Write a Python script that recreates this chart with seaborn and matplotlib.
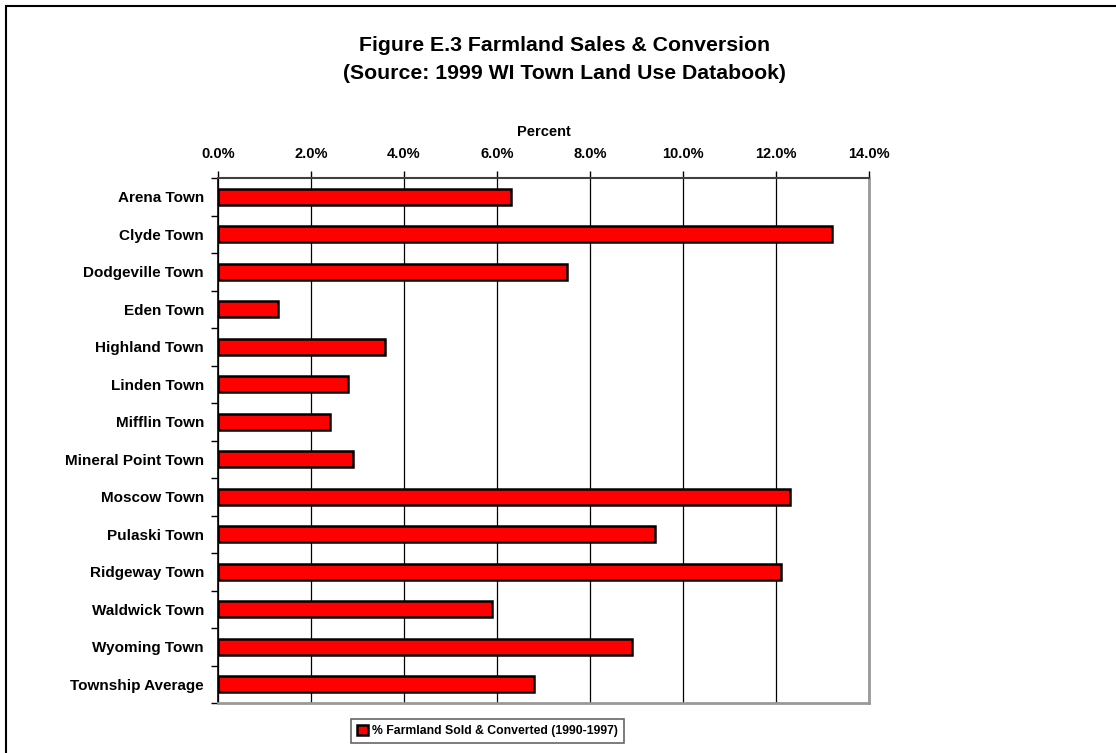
import numpy as np
import pandas as pd
import matplotlib
matplotlib.use("Agg")
import matplotlib.pyplot as plt
from matplotlib.patches import Patch, Rectangle
from matplotlib.ticker import FuncFormatter, FixedLocator
import seaborn as sns

towns = ["Arena Town", "Clyde Town", "Dodgeville Town", "Eden Town", "Highland Town",
         "Linden Town", "Mifflin Town", "Mineral Point Town", "Moscow Town", "Pulaski Town",
         "Ridgeway Town", "Waldwick Town", "Wyoming Town", "Township Average"]
pct_sold = [6.3, 13.2, 7.5, 1.3, 3.6, 2.8, 2.4, 2.9, 12.3, 9.4, 12.1, 5.9, 8.9, 6.8]
series_name = "% Farmland Sold & Converted (1990-1997)"

df = pd.DataFrame({"town": towns, "pct": pct_sold})

sns.set_theme(style="white")
plt.rcParams["font.family"] = ["Liberation Sans", "DejaVu Sans"]
plt.rcParams["font.weight"] = "bold"
for key in ["text.color", "axes.labelcolor", "xtick.color", "ytick.color"]:
    plt.rcParams[key] = "black"

fig = plt.figure(figsize=(11.16, 7.53), dpi=100)
ax = fig.add_axes([0.1953, 0.0664, 0.5834, 0.6972])

sns.barplot(data=df, x="pct", y="town", orient="h", color="#ff0000",
            edgecolor="black", linewidth=1.8, width=0.43, saturation=1, ax=ax)

ax.set_xlim(0, 14)
ax.set_ylim(len(towns) - 0.5, -0.5)
ax.xaxis.tick_top()
ax.xaxis.set_label_position("top")
ax.set_xticks(np.arange(0, 15, 2))
ax.xaxis.set_major_formatter(FuncFormatter(lambda v, p: f"{v:.1f}%"))
ax.set_xlabel("Percent", fontsize=10.5, fontweight="bold", labelpad=8)
ax.set_ylabel("")
ax.grid(axis="x", color="black", linewidth=0.9)
ax.set_axisbelow(True)

ax.tick_params(axis="x", which="major", top=True, direction="out", length=5,
               width=1, color="black", labelsize=10.5, pad=7)
ax.tick_params(axis="y", which="major", left=False, length=0, labelsize=11, pad=10)
ax.yaxis.set_minor_locator(FixedLocator(np.arange(-0.5, len(towns), 1)))
ax.tick_params(axis="y", which="minor", left=True, direction="out", length=5,
               width=1, color="black")
for lab in ax.get_xticklabels() + ax.get_yticklabels():
    lab.set_fontweight("bold")

ax.spines["left"].set_color("black")
ax.spines["left"].set_linewidth(1.2)
ax.spines["top"].set_color("#404040")
ax.spines["top"].set_linewidth(1.5)
for s in ["right", "bottom"]:
    ax.spines[s].set_color("#999999")
    ax.spines[s].set_linewidth(2)
    ax.spines[s].set_visible(True)

fig.text(0.506, 0.940, "Figure E.3 Farmland Sales & Conversion", ha="center", va="center",
         fontsize=15.3, fontweight="bold")
fig.text(0.506, 0.903, "(Source: 1999 WI Town Land Use Databook)", ha="center", va="center",
         fontsize=15.3, fontweight="bold")

handle = Patch(facecolor="#ff0000", edgecolor="black", linewidth=1.8)
leg = fig.legend([handle], [series_name], loc="center", bbox_to_anchor=(0.437, 0.029),
                 frameon=True, fancybox=False, fontsize=8.8, handlelength=0.9,
                 handleheight=0.9, handletextpad=0.3, borderpad=0.5)
leg.get_frame().set_edgecolor("#404040")
leg.get_frame().set_linewidth(1.2)
for t in leg.get_texts():
    t.set_fontweight("bold")

fig.patches.append(Rectangle((6 / 1116, -0.05), 1.2, 1 - 6 / 753 + 0.05,
                             transform=fig.transFigure, fill=False,
                             edgecolor="black", linewidth=1.5))

fig.savefig("out.png", dpi=100)
